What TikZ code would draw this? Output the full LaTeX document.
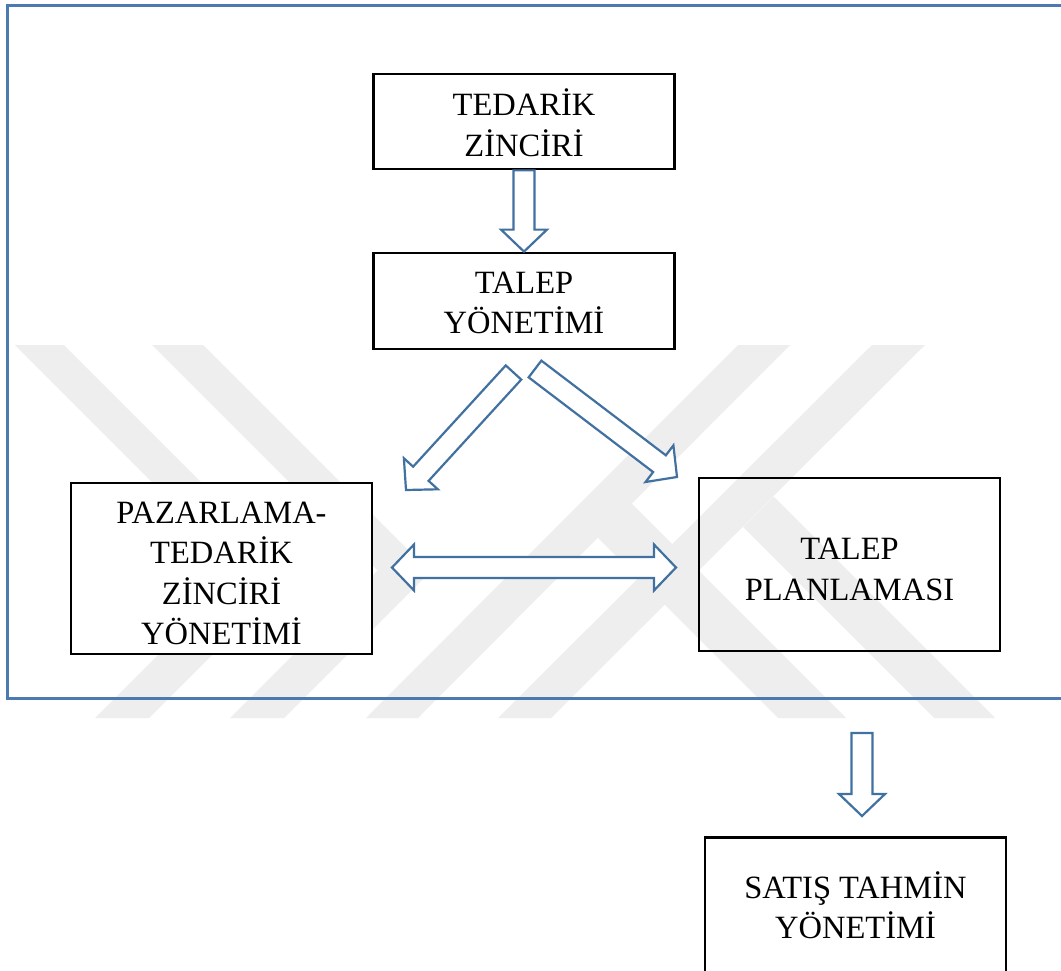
\documentclass[tikz,border=0pt]{standalone}
\usepackage{fontspec}
\setmainfont{Liberation Serif}
\usetikzlibrary{calc}
\definecolor{frameblue}{RGB}{74,122,176}
\definecolor{arrowblue}{RGB}{65,113,160}
\definecolor{wm}{RGB}{238,238,238}
\tikzset{
  box/.style={draw=black, line width=2.8pt, minimum width=301pt, inner sep=0pt},
  boxtext/.style={align=center, font=\fontsize{32.5}{40.5}\selectfont, inner sep=0pt},
  blockarr/.style={draw=arrowblue, line width=2.2pt, fill=white, line join=miter},
  wmband/.style={fill=wm, draw=none},
}
\newcommand{\shw}{10.5pt}
\newcommand{\hdw}{23pt}
\newcommand{\hdl}{22pt}
% single block arrow: #1 name prefix, #2 tail, #3 tip
\newcommand{\singlearrow}[3]{%
  \coordinate (#1h) at ($(#3)!\hdl!(#2)$);
  \draw[blockarr] ($(#2)!\shw!90:(#3)$) -- ($(#1h)!\shw!90:(#3)$) -- ($(#1h)!\hdw!90:(#3)$)
    -- (#3) -- ($(#1h)!\hdw!-90:(#3)$) -- ($(#1h)!\shw!-90:(#3)$) -- ($(#2)!\shw!-90:(#3)$) -- cycle;}
% double block arrow
\newcommand{\doublearrow}[3]{%
  \coordinate (#1a) at ($(#2)!\hdl!(#3)$);
  \coordinate (#1b) at ($(#3)!\hdl!(#2)$);
  \draw[blockarr] (#2) -- ($(#1a)!\hdw!90:(#3)$) -- ($(#1a)!\shw!90:(#3)$) -- ($(#1b)!\shw!90:(#3)$)
    -- ($(#1b)!\hdw!90:(#3)$) -- (#3) -- ($(#1b)!\hdw!-90:(#3)$) -- ($(#1b)!\shw!-90:(#3)$)
    -- ($(#1a)!\shw!-90:(#3)$) -- ($(#1a)!\hdw!-90:(#3)$) -- cycle;}
\begin{document}
\begin{tikzpicture}[x=1pt,y=-1pt]
\useasboundingbox (0,0) rectangle (1061,971);
\fill[white] (0,0) rectangle (1061,971);
% watermark
\begin{scope}
\clip (0,345) rectangle (1061,718);
\fill[wmband] (15,345) -- (64,345) -- (293,574) -- (149,718) -- (95,718) -- (241.5,571.5) -- cycle;
\fill[wmband] (152,345) -- (203,345) -- (430,572) -- (284,718) -- (230,718) -- (377.5,570.5) -- cycle;
\fill[wmband] (738,345) -- (790,345) -- (418,718) -- (366,718) -- cycle;
\fill[wmband] (872,345) -- (925,345) -- (551,718) -- (498,718) -- cycle;
\fill[wmband] (631.5,503.5) -- (846,718) -- (778,718) -- (597.5,537.5) -- cycle;
\fill[wmband] (773.5,496.5) -- (995,718) -- (934,718) -- (743,527) -- cycle;
\end{scope}
% frame
\draw[frameblue, line width=3pt] (7.5,5.5) rectangle (1080,698.5);
% boxes
\node[box, minimum height=95pt] (tz) at (524,121.5) {};
\node[boxtext] (tzt) at ($(tz.center)+(0,1)$) {TEDARİK\\ZİNCİRİ};
\node[box, minimum height=96pt, fill=white] (ty) at (524,301) {};
\node[boxtext] (tyt) at ($(ty.center)+(0,2)$) {TALEP\\YÖNETİMİ};
\node[box, minimum height=171pt, fill=white] (pz) at (221.5,568.5) {};
\node[boxtext] (pzt) at ($(pz.center)+(0,5)$) {PAZARLAMA-\\TEDARİK\\ZİNCİRİ\\YÖNETİMİ};
\node[box, minimum height=173pt] (tp) at (849.5,564.5) {};
\node[boxtext] (tpt) at ($(tp.center)+(0,5)$) {TALEP\\PLANLAMASI};
\node[box, minimum height=165pt] (st) at (855.5,920) {};
\node[boxtext] (stt) at (855.5,905) {SATIŞ TAHMİN\\YÖNETİMİ};
% arrows
\coordinate (a1s) at (tz.south);
\coordinate (a1e) at (ty.north);
\singlearrow{a1}{a1s}{a1e}
\coordinate (a2s) at (513.5,372.5);
\coordinate (a2e) at (406,490);
\singlearrow{a2}{a2s}{a2e}
\coordinate (a3s) at (535,369);
\coordinate (a3e) at (677,477);
\singlearrow{a3}{a3s}{a3e}
\coordinate (a4s) at (392,567.5);
\coordinate (a4e) at (676,567.5);
\doublearrow{a4}{a4s}{a4e}
\coordinate (a5s) at (862,733);
\coordinate (a5e) at (862,816);
\singlearrow{a5}{a5s}{a5e}
\end{tikzpicture}
\end{document}
